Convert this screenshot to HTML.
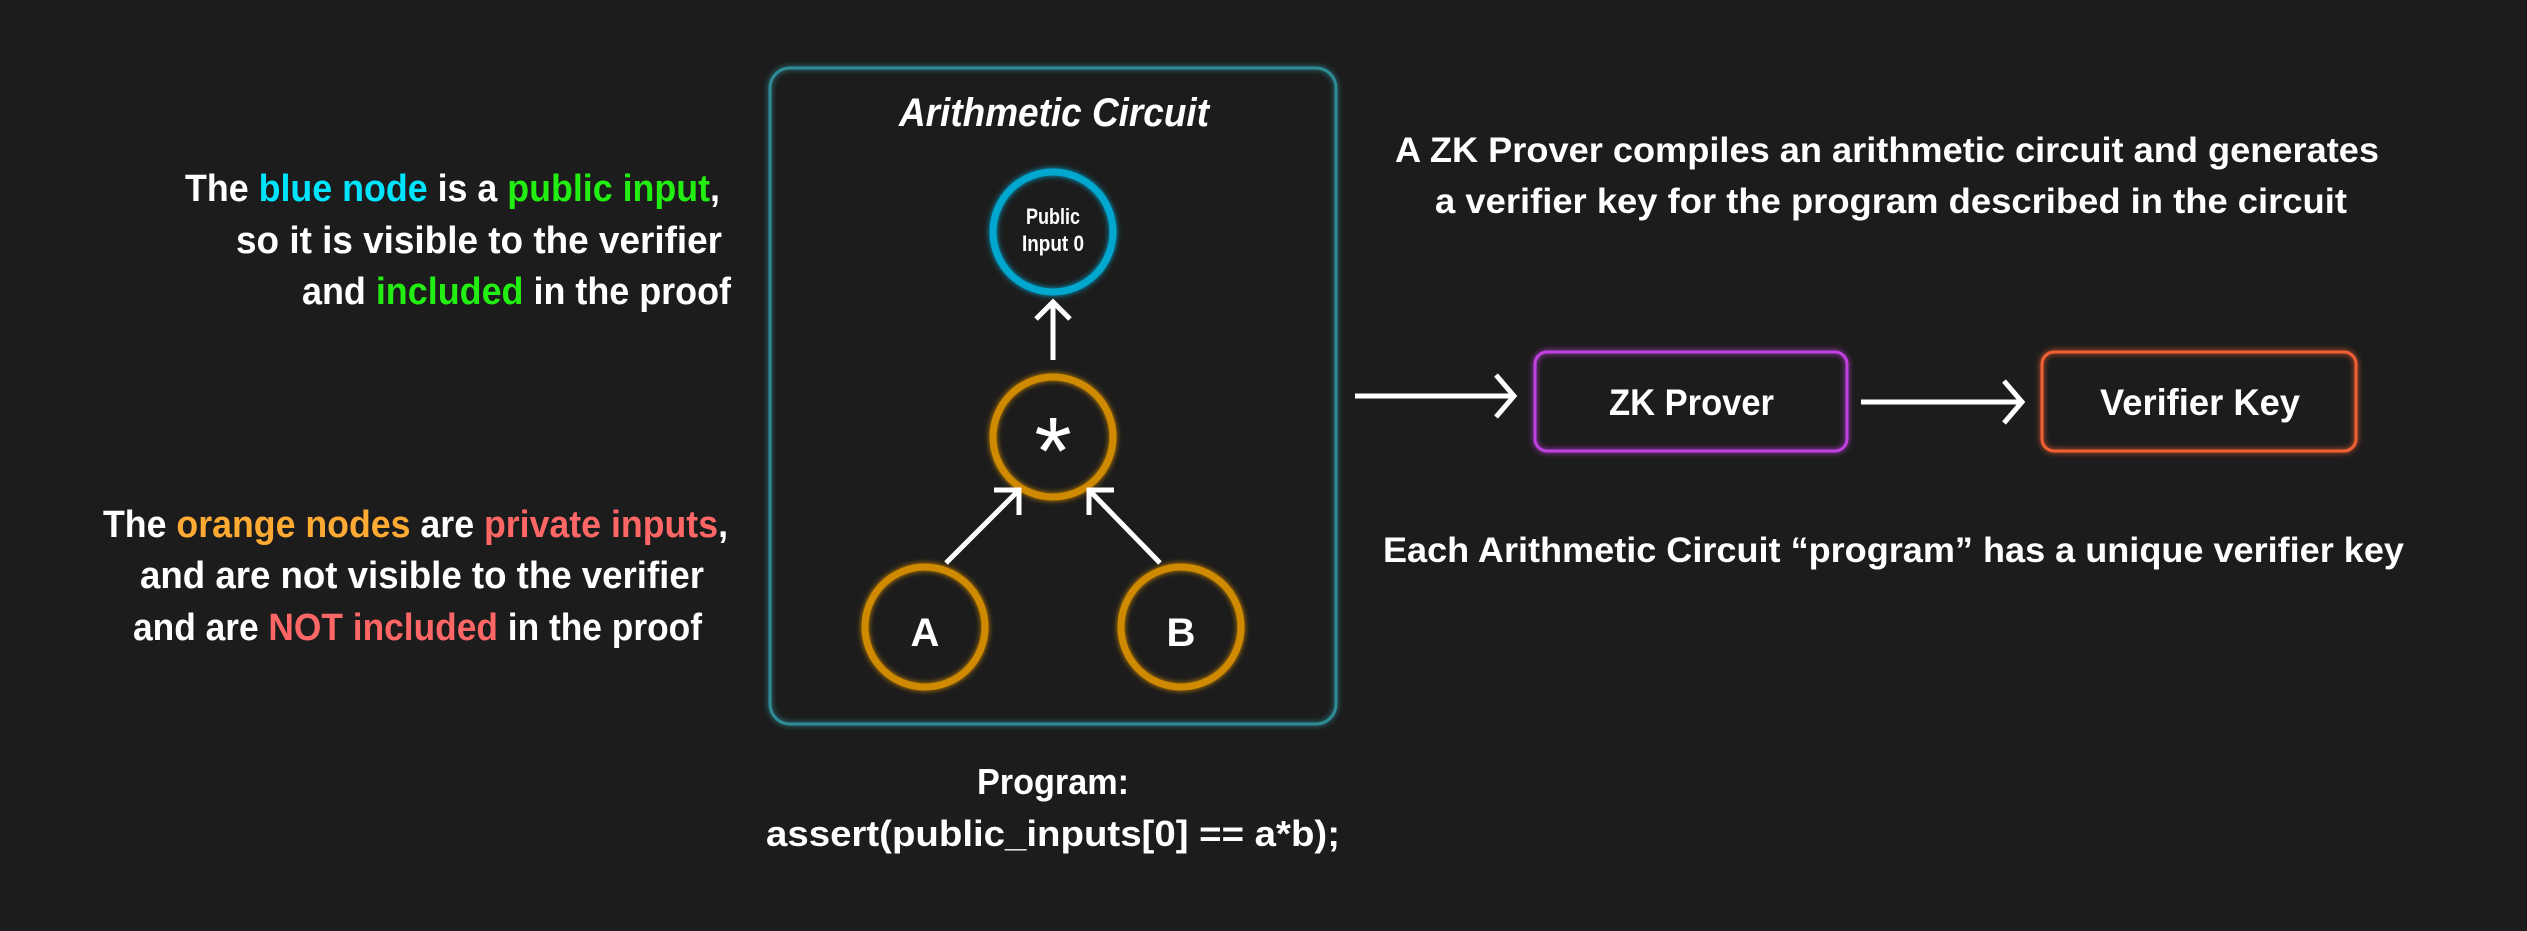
<!DOCTYPE html>
<html><head><meta charset="utf-8"><style>
html,body{margin:0;padding:0;background:#1c1c1c;}
svg{display:block;}
text{font-family:"Liberation Sans",sans-serif;font-weight:bold;fill:#fff;}
</style></head><body>
<svg width="2527" height="931" viewBox="0 0 2527 931" xmlns="http://www.w3.org/2000/svg">
<defs>
<filter id="g" x="-20%" y="-20%" width="140%" height="140%"><feGaussianBlur stdDeviation="3" result="b"/><feMerge><feMergeNode in="b"/><feMergeNode in="SourceGraphic"/></feMerge></filter>
</defs>
<rect width="2527" height="931" fill="#1c1c1c"/>
<rect x="770" y="68" width="566" height="656" rx="20" fill="none" stroke="#2f8c96" stroke-width="3" filter="url(#g)"/>
<text x="1054" y="126" font-size="40" font-style="italic" text-anchor="middle" textLength="310" lengthAdjust="spacingAndGlyphs">Arithmetic Circuit</text>
<circle cx="1053" cy="232" r="60" fill="none" stroke="#00a8d0" stroke-width="7" filter="url(#g)"/>
<text x="1026" y="224" font-size="22" textLength="54" lengthAdjust="spacingAndGlyphs">Public</text>
<text x="1022" y="251" font-size="22" textLength="62" lengthAdjust="spacingAndGlyphs">Input 0</text>
<circle cx="1053" cy="437" r="60" fill="none" stroke="#d08a00" stroke-width="7" filter="url(#g)"/>
<text x="1053" y="484" font-size="96" font-weight="normal" text-anchor="middle" style="font-weight:normal">*</text>
<circle cx="925" cy="627" r="60" fill="none" stroke="#d08a00" stroke-width="7" filter="url(#g)"/>
<text x="925" y="646" font-size="40" text-anchor="middle">A</text>
<circle cx="1181" cy="627" r="60" fill="none" stroke="#d08a00" stroke-width="7" filter="url(#g)"/>
<text x="1181" y="646" font-size="40" text-anchor="middle">B</text>
<g stroke="#fff" stroke-width="5" fill="none">
<line x1="1053" y1="360" x2="1053" y2="302"/><polyline points="1036,319 1053,302 1070,319"/>
<line x1="946" y1="563" x2="1019" y2="490"/><polyline points="994,490 1019,490 1019,515"/>
<line x1="1160" y1="563" x2="1089" y2="490"/><polyline points="1114,490 1089,490 1089,515"/>
<line x1="1355" y1="396" x2="1512" y2="396"/><polyline points="1496,375 1514,396 1496,417"/>
<line x1="1861" y1="402" x2="2020" y2="402"/><polyline points="2004,381 2022,402 2004,423"/>
</g>
<rect x="1535" y="352" width="312" height="99" rx="12" fill="none" stroke="#c040e0" stroke-width="3" filter="url(#g)"/>
<text x="1609" y="415" font-size="37" textLength="165" lengthAdjust="spacingAndGlyphs">ZK Prover</text>
<rect x="2042" y="352" width="314" height="99" rx="12" fill="none" stroke="#f06030" stroke-width="3" filter="url(#g)"/>
<text x="2100" y="415" font-size="37" textLength="200" lengthAdjust="spacingAndGlyphs">Verifier Key</text>
<text x="1395" y="162" font-size="35" textLength="984" lengthAdjust="spacingAndGlyphs">A ZK Prover compiles an arithmetic circuit and generates</text>
<text x="1435" y="213" font-size="35" textLength="912" lengthAdjust="spacingAndGlyphs">a verifier key for the program described in the circuit</text>
<text x="1383" y="562" font-size="35" textLength="1021" lengthAdjust="spacingAndGlyphs">Each Arithmetic Circuit “program” has a unique verifier key</text>
<text x="185" y="201" font-size="38" textLength="535" lengthAdjust="spacingAndGlyphs">The <tspan fill="#00e5ff">blue node</tspan> is a <tspan fill="#22ee11">public input</tspan>,</text>
<text x="236" y="253" font-size="38" textLength="486" lengthAdjust="spacingAndGlyphs">so it is visible to the verifier</text>
<text x="302" y="304" font-size="38" textLength="429" lengthAdjust="spacingAndGlyphs">and <tspan fill="#22ee11">included</tspan> in the proof</text>
<text x="103" y="537" font-size="38" textLength="625" lengthAdjust="spacingAndGlyphs">The <tspan fill="#ffaa33">orange nodes</tspan> are <tspan fill="#ff6666">private inputs</tspan>,</text>
<text x="140" y="588" font-size="38" textLength="564" lengthAdjust="spacingAndGlyphs">and are not visible to the verifier</text>
<text x="133" y="640" font-size="38" textLength="569" lengthAdjust="spacingAndGlyphs">and are <tspan fill="#ff6666">NOT included</tspan> in the proof</text>
<text x="977" y="794" font-size="36" textLength="152" lengthAdjust="spacingAndGlyphs">Program:</text>
<text x="766" y="846" font-size="36" textLength="574" lengthAdjust="spacingAndGlyphs">assert(public_inputs[0]  == a*b);</text>
</svg>
</body></html>
